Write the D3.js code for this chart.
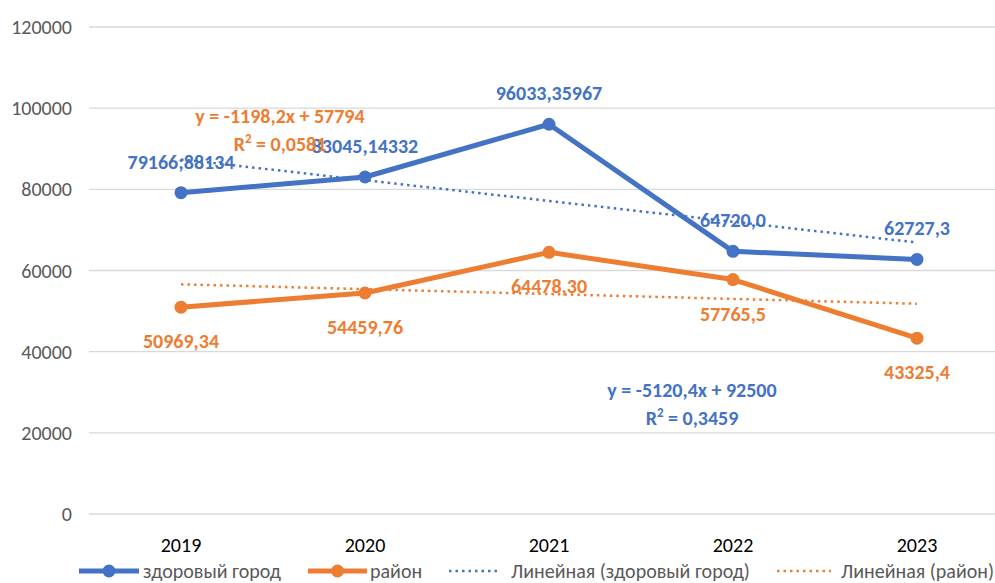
<!DOCTYPE html>
<html lang="ru">
<head>
<meta charset="utf-8">
<title>здоровый город / район</title>
<script src="https://cdn.jsdelivr.net/npm/d3@7/dist/d3.min.js"></script>
<style>
  body { margin: 0; background: #fff; }
  svg text { font-family: Carlito, "Liberation Sans Narrow", "Open Sans", sans-serif; }
</style>
</head>
<body>
<script>

// Chart data
var years = ["2019", "2020", "2021", "2022", "2023"];
var cityValues = [79166.88134, 83045.14332, 96033.35967, 64720.0, 62727.3];
var districtValues = [50969.34, 54459.76, 64478.30, 57765.5, 43325.4];
var cityLabels = ["79166;88134", "83045,14332", "96033,35967", "64720,0", "62727,3"];
var districtLabels = ["50969,34", "54459,76", "64478,30", "57765,5", "43325,4"];

// Linear trend values at each year (from the equations shown on the chart)
var cityTrend = [87379.6, 82259.2, 77138.8, 72018.4, 66898.0];
var districtTrend = [56595.8, 55397.6, 54199.4, 53001.2, 51803.0];

var yTicks = [0, 20000, 40000, 60000, 80000, 100000, 120000];
var legendNames = ["здоровый город", "район", "Линейная (здоровый город)", "Линейная (район)"];

var w = 995, h = 583;
var blue = "#4472C4", orange = "#ED7D31";
var fs = "20px";

var svg = d3.select("body").append("svg")
    .attr("width", w)
    .attr("height", h);

var x = d3.scalePoint().domain(years).range([181, 917]);
var y = d3.scaleLinear().domain([0, 120000]).range([514, 27]);

// Gridlines
svg.append("g").selectAll("line")
    .data(yTicks)
    .enter().append("line")
    .attr("x1", 89).attr("x2", w)
    .attr("y1", function(d) { return y(d); })
    .attr("y2", function(d) { return y(d); })
    .style("stroke", "#D9D9D9")
    .style("stroke-width", 1.3);

// Y axis labels
svg.append("g").selectAll("text")
    .data(yTicks)
    .enter().append("text")
    .attr("x", 72)
    .attr("y", function(d) { return y(d); })
    .attr("dy", "0.35em")
    .attr("text-anchor", "end")
    .style("font-size", fs)
    .style("fill", "#595959")
    .text(function(d) { return d; });

// X axis labels
svg.append("g").selectAll("text")
    .data(years)
    .enter().append("text")
    .attr("x", function(d) { return x(d); })
    .attr("y", 552)
    .attr("text-anchor", "middle")
    .style("font-size", fs)
    .style("fill", "#000")
    .text(function(d) { return d; });

var line = d3.line()
    .x(function(d, i) { return x(years[i]); })
    .y(function(d) { return y(d); });

// Trend lines (dotted)
function drawTrend(values, color) {
    svg.append("path")
        .datum(values)
        .attr("d", line)
        .style("fill", "none")
        .style("stroke", color)
        .style("stroke-width", 2.5)
        .style("stroke-dasharray", "2.5,4");
}
drawTrend(districtTrend, orange);
drawTrend(cityTrend, blue);

// Data series
function drawSeries(values, color) {
    svg.append("path")
        .datum(values)
        .attr("d", line)
        .style("fill", "none")
        .style("stroke", color)
        .style("stroke-width", 5)
        .style("stroke-linejoin", "round");
    svg.append("g").selectAll("circle")
        .data(values)
        .enter().append("circle")
        .attr("cx", function(d, i) { return x(years[i]); })
        .attr("cy", function(d) { return y(d); })
        .attr("r", 6.5)
        .style("fill", color);
}
drawSeries(districtValues, orange);
drawSeries(cityValues, blue);

// Data labels: city above the points, district below
function drawLabels(values, labels, color, offset) {
    svg.append("g").selectAll("text")
        .data(values)
        .enter().append("text")
        .attr("x", function(d, i) { return x(years[i]); })
        .attr("y", function(d) { return y(d) + offset; })
        .attr("text-anchor", "middle")
        .style("font-size", fs)
        .style("font-weight", "bold")
        .style("fill", color)
        .text(function(d, i) { return labels[i]; });
}
drawLabels(cityValues, cityLabels, blue, -24);
drawLabels(districtValues, districtLabels, orange, 41);

// Trend equations
function drawEquation(cx, baseline, eq, r2, color) {
    var g = svg.append("g").style("fill", color)
        .style("font-size", fs).style("font-weight", "bold")
        .attr("text-anchor", "middle");
    g.append("text").attr("x", cx).attr("y", baseline).text(eq);
    var t = g.append("text").attr("x", cx).attr("y", baseline + 28);
    t.append("tspan").text("R");
    t.append("tspan").attr("dy", -8).style("font-size", "13px").text("2");
    t.append("tspan").attr("dy", 8).text(" = " + r2);
}
drawEquation(280, 123, "y = -1198,2x + 57794", "0,0581", orange);
drawEquation(692, 397, "y = -5120,4x + 92500", "0,3459", blue);

// Legend
var legendY = 571;
var legend = svg.append("g");
function legendItem(x0, x1, tx, color, dotted, name) {
    legend.append("line")
        .attr("x1", x0).attr("x2", x1)
        .attr("y1", legendY).attr("y2", legendY)
        .style("stroke", color)
        .style("stroke-width", dotted ? 2.5 : 5)
        .style("stroke-dasharray", dotted ? "2.5,4" : null);
    if (!dotted) {
        legend.append("circle")
            .attr("cx", (x0 + x1) / 2).attr("cy", legendY)
            .attr("r", 6.5).style("fill", color);
    }
    legend.append("text")
        .attr("x", tx).attr("y", legendY)
        .attr("dy", "0.33em")
        .style("font-size", fs)
        .style("fill", "#595959")
        .text(name);
}
legendItem(79, 139, 143, blue, false, legendNames[0]);
legendItem(308, 367, 370, orange, false, legendNames[1]);
legendItem(449, 501, 511, blue, true, legendNames[2]);
legendItem(777, 831, 841, orange, true, legendNames[3]);

</script>
</body>
</html>
